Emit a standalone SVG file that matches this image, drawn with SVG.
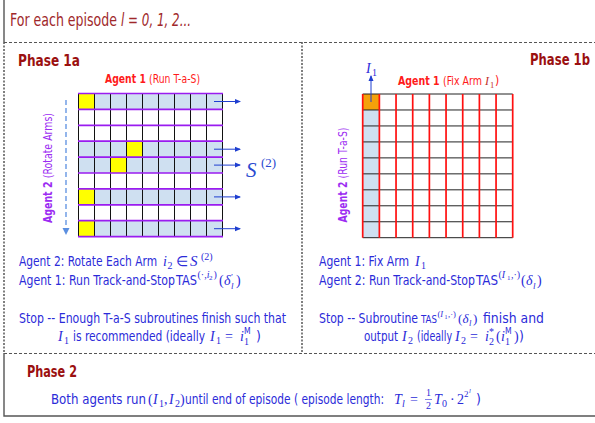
<svg xmlns="http://www.w3.org/2000/svg" width="595" height="423" viewBox="0 0 595 423">
<style>
.sans{font-family:"DejaVu Sans Condensed","Liberation Sans",Arial,sans-serif;font-stretch:condensed}
.m{font-family:"Liberation Serif","Times New Roman",serif;font-style:italic;font-stretch:normal}
.mr{font-family:"Liberation Serif","Times New Roman",serif;font-style:normal;font-stretch:normal}
.blue{fill:#2b2bd9}
.ph{font-family:"DejaVu Sans Condensed","Liberation Sans",Arial,sans-serif;font-stretch:condensed;font-weight:bold;font-size:16px;fill:#9b1010}
.red{fill:#ff1a1a}
.pur{fill:#9c2cf2}
.frame{stroke:#555;stroke-width:1.4;fill:none}
.dash{stroke:#555;stroke-width:1;stroke-dasharray:3 2;fill:none}
.dot{stroke:#555;stroke-width:1.5;stroke-dasharray:2 1.5;fill:none}
</style>
<defs>
<marker id="ah" markerWidth="6" markerHeight="6" refX="5" refY="3" orient="auto" markerUnits="userSpaceOnUse"><path d="M0,0.5 L6,3 L0,5.5 Z" fill="#1f3fd0"/></marker>
<marker id="ah2" markerWidth="8" markerHeight="8" refX="6" refY="4" orient="auto" markerUnits="userSpaceOnUse"><path d="M0,0.5 L7,4 L0,7.5 Z" fill="#5b8fe0"/></marker>
</defs>
<rect width="595" height="423" fill="#fff"/>
<g id="frame">
<path class="frame" d="M4,0 V42 M4,353 V416 H595"/>
<path class="dash" d="M4,42.5 H595 M4,353.5 H595"/>
<path class="dot" d="M4,42 V353 M302,42 V353"/>
</g>
<g id="title" fill="#a0282b">
<text class="sans" transform="translate(10,26) scale(0.84,1)" font-size="17" textLength="127.4" lengthAdjust="spacingAndGlyphs">For each episode</text>
<text class="sans" transform="translate(121,26) scale(0.84,1)" font-size="17" font-style="italic" textLength="83.3" lengthAdjust="spacingAndGlyphs">l = 0, 1, 2...</text>
</g>
<g id="phase1a">
<text class="ph" transform="translate(18,66) scale(0.84,1)" textLength="73.8" lengthAdjust="spacingAndGlyphs">Phase 1a</text>
<text class="sans red" transform="translate(105,83) scale(0.84,1)" font-size="11.5" textLength="113.1" lengthAdjust="spacingAndGlyphs"><tspan font-weight="bold">Agent 1 </tspan>(Run T-a-S)</text>
<text class="sans pur" transform="translate(52,168) rotate(-90) scale(0.84,1)" text-anchor="middle" font-size="11.5" textLength="131" lengthAdjust="spacingAndGlyphs"><tspan font-weight="bold">Agent 2 </tspan>(Rotate Arms)</text>
<g id="grid1a">
<rect x="78.5" y="93.5" width="144" height="143.1" fill="#fff"/>
<g fill="#cfe0f1">
<rect x="78.5" y="93.5" width="144" height="15.9"/>
<rect x="78.5" y="141.2" width="144" height="31.8"/>
<rect x="78.5" y="188.9" width="144" height="15.9"/>
<rect x="78.5" y="220.7" width="144" height="15.9"/>
</g>
<g fill="#ffff00">
<rect x="78.5" y="93.5" width="16" height="15.9"/>
<rect x="126.5" y="141.2" width="16" height="15.9"/>
<rect x="110.5" y="157.1" width="16" height="15.9"/>
<rect x="78.5" y="188.9" width="16" height="15.9"/>
<rect x="78.5" y="220.7" width="16" height="15.9"/>
</g>
<path stroke="#111" stroke-width="1" d="M78.5,93.5V236.6 M94.5,93.5V236.6 M110.5,93.5V236.6 M126.5,93.5V236.6 M142.5,93.5V236.6 M158.5,93.5V236.6 M174.5,93.5V236.6 M190.5,93.5V236.6 M206.5,93.5V236.6 M222.5,93.5V236.6"/>
<path stroke="#9a1cf0" stroke-width="1.7" d="M78,93.5H223 M78,109.4H223 M78,125.3H223 M78,141.2H223 M78,157.1H223 M78,173H223 M78,188.9H223 M78,204.8H223 M78,220.7H223 M78,236.6H223"/>
</g>
<text fill="#2a4ad0"><tspan class="m" x="246" y="177" font-size="21">S</tspan><tspan class="mr" x="261" y="167" font-size="13">(2)</tspan></text>
</g>
<g id="phase1b">
<text class="ph" transform="translate(590,65) scale(0.84,1)" text-anchor="end" textLength="71.4" lengthAdjust="spacingAndGlyphs">Phase 1b</text>
<text fill="#2b2bd9"><tspan class="m" x="366" y="73" font-size="14">I</tspan><tspan class="mr" x="372" y="76" font-size="10">1</tspan></text>
<text class="sans red" transform="translate(398,85) scale(0.84,1)" font-size="11.5" textLength="100" lengthAdjust="spacingAndGlyphs"><tspan font-weight="bold">Agent 1 </tspan>(Fix Arm</text>
<text y="85" font-size="12"><tspan class="m" x="485" fill="#c0302a">I</tspan><tspan class="mr" x="490" y="88" font-size="8.5" fill="#c0302a">1</tspan><tspan class="sans red" x="495" y="85">)</tspan></text>
<text class="sans pur" transform="translate(347,175) rotate(-90) scale(0.84,1)" text-anchor="middle" font-size="11.5" textLength="113" lengthAdjust="spacingAndGlyphs"><tspan font-weight="bold">Agent 2 </tspan>(Run T-a-S)</text>
<g id="grid1b">
<rect x="362.7" y="94" width="150" height="143.7" fill="#fff"/>
<rect x="362.7" y="94" width="16.67" height="143.7" fill="#cfe0f1"/>
<rect x="362.7" y="94" width="16.67" height="15.97" fill="#f4a10a"/>
<path stroke="#222" stroke-width="1" d="M362.7,94H512.7 M362.7,109.97H512.7 M362.7,125.94H512.7 M362.7,141.91H512.7 M362.7,157.88H512.7 M362.7,173.85H512.7 M362.7,189.82H512.7 M362.7,205.79H512.7 M362.7,221.76H512.7 M362.7,237.7H512.7"/>
<path stroke="#ff1010" stroke-width="1.7" d="M362.7,94V237.7 M379.37,94V237.7 M396.04,94V237.7 M412.71,94V237.7 M429.38,94V237.7 M446.05,94V237.7 M462.72,94V237.7 M479.39,94V237.7 M496.06,94V237.7 M512.7,94V237.7"/>
</g>
</g>
<g id="connectors">
<g stroke="#1f3fd0" stroke-width="1" marker-end="url(#ah)">
<line x1="214" y1="101.5" x2="240" y2="101.5"/>
<line x1="214" y1="149.2" x2="240" y2="149.2"/>
<line x1="214" y1="165.1" x2="240" y2="165.1"/>
<line x1="214" y1="196.9" x2="240" y2="196.9"/>
<line x1="214" y1="228.7" x2="240" y2="228.7"/>
</g>
<line x1="66" y1="100" x2="66" y2="234" stroke="#5b8fe0" stroke-width="1.3" stroke-dasharray="5 3" marker-end="url(#ah2)"/>
<line x1="371" y1="102" x2="371" y2="76" stroke="#1f3fd0" stroke-width="1" marker-end="url(#ah)"/>
</g>
<g id="text1a" class="blue">
<text class="sans" transform="translate(19,266) scale(0.84,1)" font-size="14" textLength="164.3" lengthAdjust="spacingAndGlyphs">Agent 2: Rotate Each Arm</text>
<text font-size="14" y="266"><tspan class="m" x="163">i</tspan><tspan class="mr" x="167.5" y="269" font-size="10">2</tspan><tspan class="mr" x="176" y="266">∈</tspan><tspan class="m" x="190" font-size="15">S</tspan><tspan class="mr" x="201" y="260" font-size="10">(2)</tspan></text>
<text class="sans" transform="translate(19,285) scale(0.84,1)" font-size="14" textLength="185.7" lengthAdjust="spacingAndGlyphs">Agent 1: Run Track-and-Stop</text>
<text class="sans" transform="translate(176,285) scale(0.84,1)" font-size="14" textLength="25" lengthAdjust="spacingAndGlyphs">TAS</text>
<text font-size="14" y="285"><tspan class="mr" x="197.5" y="278" font-size="10">(·,</tspan><tspan class="m" font-size="10">i</tspan><tspan class="mr" x="209" y="280" font-size="7">2</tspan><tspan class="mr" x="213.5" y="278" font-size="10">)</tspan><tspan class="mr" x="219" y="285">(</tspan><tspan class="m" x="224">δ</tspan><tspan class="mr" x="231" y="280" font-size="9">′</tspan><tspan class="m" x="231" y="289" font-size="9">l</tspan><tspan class="mr" x="236" y="285">)</tspan></text>
<text class="sans" transform="translate(19,323) scale(0.84,1)" font-size="14" textLength="317.9" lengthAdjust="spacingAndGlyphs">Stop -- Enough T-a-S subroutines finish such that</text>
<text font-size="14" y="341"><tspan class="m" x="58">I</tspan><tspan class="mr" x="64" y="344" font-size="10">1</tspan></text>
<text class="sans" transform="translate(73,341) scale(0.84,1)" font-size="14" textLength="157.1" lengthAdjust="spacingAndGlyphs">is recommended (ideally</text>
<text font-size="14" y="341"><tspan class="m" x="210">I</tspan><tspan class="mr" x="216" y="344" font-size="10">1</tspan><tspan class="mr" x="225" y="341">=</tspan><tspan class="m" x="240">i</tspan><tspan class="mr" x="244" y="345" font-size="10">1</tspan><tspan class="sans" x="244" y="334" font-size="8.5">M</tspan><tspan class="sans" x="256" y="341">)</tspan></text>
</g>
<g id="text1b" class="blue">
<text class="sans" transform="translate(319,266) scale(0.84,1)" font-size="14" textLength="107.1" lengthAdjust="spacingAndGlyphs">Agent 1: Fix Arm</text>
<text font-size="14" y="266"><tspan class="m" x="415">I</tspan><tspan class="mr" x="421" y="269" font-size="10">1</tspan></text>
<text class="sans" transform="translate(319,285) scale(0.84,1)" font-size="14" textLength="185.7" lengthAdjust="spacingAndGlyphs">Agent 2: Run Track-and-Stop</text>
<text class="sans" transform="translate(476,285) scale(0.84,1)" font-size="14" textLength="26.2" lengthAdjust="spacingAndGlyphs">TAS</text>
<text font-size="14" y="285"><tspan class="mr" x="498.5" y="278" font-size="10">(</tspan><tspan class="m" font-size="10">I</tspan><tspan class="mr" x="507" y="280" font-size="7">1</tspan><tspan class="mr" x="511" y="278" font-size="10">,·)</tspan><tspan class="mr" x="521" y="285">(</tspan><tspan class="m" x="526">δ</tspan><tspan class="m" x="533" y="289" font-size="9">l</tspan><tspan class="mr" x="537" y="285">)</tspan></text>
<text class="sans" transform="translate(319,323) scale(0.84,1)" font-size="14" textLength="117.9" lengthAdjust="spacingAndGlyphs">Stop -- Subroutine</text>
<text class="sans" transform="translate(421,323) scale(0.84,1)" font-size="11" textLength="19" lengthAdjust="spacingAndGlyphs">TAS</text>
<text font-size="13" y="323"><tspan class="mr" x="437.5" y="317" font-size="8.5">(</tspan><tspan class="m" font-size="8.5">I</tspan><tspan class="mr" x="444.5" y="319" font-size="6">1</tspan><tspan class="mr" x="448" y="317" font-size="8.5">,·)</tspan><tspan class="mr" x="458" y="323">(</tspan><tspan class="m" x="462.5">δ</tspan><tspan class="m" x="469" y="326" font-size="8.5">l</tspan><tspan class="mr" x="473" y="323">)</tspan></text>
<text class="sans" transform="translate(483,323) scale(0.84,1)" font-size="14" textLength="72.6" lengthAdjust="spacingAndGlyphs">finish and</text>
<text class="sans" transform="translate(364,341) scale(0.84,1)" font-size="14" textLength="40.5" lengthAdjust="spacingAndGlyphs">output</text>
<text font-size="14" y="341"><tspan class="m" x="402">I</tspan><tspan class="mr" x="408" y="344" font-size="10">2</tspan></text>
<text class="sans" transform="translate(417,341) scale(0.84,1)" font-size="14" textLength="41.7" lengthAdjust="spacingAndGlyphs">(ideally</text>
<text font-size="14" y="341"><tspan class="m" x="455">I</tspan><tspan class="mr" x="461" y="344" font-size="10">2</tspan><tspan class="mr" x="470" y="341">=</tspan><tspan class="m" x="485">i</tspan><tspan class="mr" x="489" y="345" font-size="10">2</tspan><tspan class="mr" x="489" y="335" font-size="10">*</tspan><tspan class="mr" x="496" y="341">(</tspan><tspan class="m" x="501">i</tspan><tspan class="mr" x="505" y="345" font-size="10">1</tspan><tspan class="sans" x="505" y="334" font-size="8.5">M</tspan><tspan class="mr" x="514" y="341">)</tspan><tspan class="sans" x="519">)</tspan></text>
</g>
<g id="phase2">
<text class="ph" transform="translate(27,377) scale(0.84,1)" textLength="59.5" lengthAdjust="spacingAndGlyphs">Phase 2</text>
<g class="blue">
<text class="sans" transform="translate(51,404) scale(0.84,1)" font-size="14" textLength="113.1" lengthAdjust="spacingAndGlyphs">Both agents run</text>
<text font-size="14" y="404"><tspan class="mr" x="148">(</tspan><tspan class="m" x="153">I</tspan><tspan class="mr" x="159" y="407" font-size="10">1</tspan><tspan class="mr" x="164" y="404">,</tspan><tspan class="m" x="169">I</tspan><tspan class="mr" x="175" y="407" font-size="10">2</tspan><tspan class="mr" x="180" y="404">)</tspan></text>
<text class="sans" transform="translate(185,404) scale(0.84,1)" font-size="14" textLength="236.9" lengthAdjust="spacingAndGlyphs">until end of episode ( episode length:</text>
<text font-size="14" y="404"><tspan class="m" x="394">T</tspan><tspan class="m" x="402" y="407" font-size="10">l</tspan><tspan class="mr" x="410" y="404">=</tspan><tspan class="mr" x="426" y="396" font-size="10">1</tspan><tspan class="mr" x="426" y="409" font-size="10">2</tspan><tspan class="m" x="434" y="404">T</tspan><tspan class="mr" x="442" y="407" font-size="10">0</tspan><tspan class="mr" x="450" y="404">·</tspan><tspan class="mr" x="457">2</tspan><tspan class="mr" x="464" y="397" font-size="9">2</tspan><tspan class="m" x="469" y="393" font-size="6.5">l</tspan><tspan class="sans" x="476" y="404">)</tspan></text>
<line x1="425" y1="399.5" x2="432" y2="399.5" stroke="#2b2bd9" stroke-width="0.6"/>
</g>
</g>
</svg>
